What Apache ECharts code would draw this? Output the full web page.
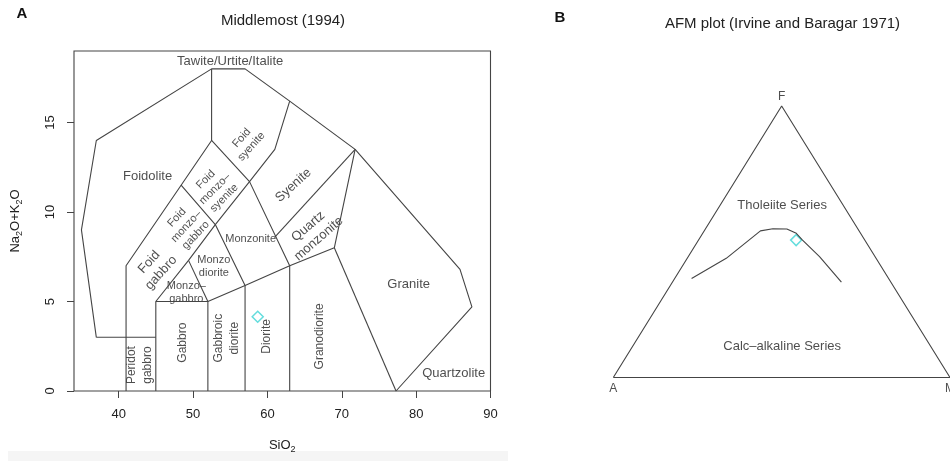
<!DOCTYPE html>
<html>
<head>
<meta charset="utf-8">
<script src="https://cdn.jsdelivr.net/npm/echarts@6/dist/echarts.min.js"></script>
<style>
  html, body { margin: 0; padding: 0; background: #fff; }
  #chart { width: 950px; height: 461px; }
</style>
</head>
<body>
<div id="chart"></div>
<script>
// ---------- Panel A: Middlemost (1994) plutonic TAS fields ----------
const siO2Ticks = [40, 50, 60, 70, 80, 90];
const alkaliTicks = [0, 5, 10, 15];

// Field boundaries as [SiO2, Na2O+K2O] polylines (wt%)
const outerBoundary = [[37, 3], [35, 9], [37, 14], [52.5, 18], [57, 18], [63, 16.2], [71.8, 13.5], [85.9, 6.8], [87.5, 4.7], [77.3, 0]];
const foidoliteBase = [[37, 3], [45, 3]];
const foidGabbroEdge = [[41, 0], [41, 7], [48.4, 11.5], [52.5, 14], [52.5, 18]];
const subalkalineTop = [[45, 0], [45, 5], [52, 5], [57, 5.9], [63, 7], [69, 8], [71.8, 13.5]];
const gabbroEdge = [[52, 0], [52, 5]];
const gabbroicDioriteEdge = [[57, 0], [57, 5.9]];
const dioriteEdge = [[63, 0], [63, 7]];
const granodioriteEdge = [[69, 8], [77.3, 0]];
const foidSyeniteBase = [[45, 5], [49.4, 7.3], [53, 9.3], [57.6, 11.7], [61, 13.5], [63, 16.2]];
const syeniteBase = [[52.5, 14], [57.6, 11.7], [63, 7]];
const monzoniteBase = [[48.4, 11.5], [53, 9.3], [57, 5.9]];
const monzogabbroEdge = [[49.4, 7.3], [52, 5]];
const quartzMonzoniteTop = [[61, 8.6], [71.8, 13.5]];

const tasBoundaries = [
  outerBoundary, foidoliteBase, foidGabbroEdge, subalkalineTop, gabbroEdge,
  gabbroicDioriteEdge, dioriteEdge, granodioriteEdge, foidSyeniteBase,
  syeniteBase, monzoniteBase, monzogabbroEdge, quartzMonzoniteTop
];

const tasFieldNames = [
  'Tawite/Urtite/Italite', 'Foidolite', 'Foid\nsyenite', 'Foid\nmonzo\u2013\nsyenite',
  'Syenite', 'Foid\nmonzo\u2013\ngabbro', 'Foid\ngabbro', 'Monzonite', 'Monzo\ndiorite',
  'Monzo\u2013\ngabbro', 'Quartz\nmonzonite', 'Peridot\ngabbro', 'Gabbro',
  'Gabbroic\ndiorite', 'Diorite', 'Granodiorite', 'Granite', 'Quartzolite'
];
// label anchor [SiO2, alkali], rotation (deg), font size
const tasLabelLayout = [
  [[55, 18.4], 0, 13], [[43.9, 12.0], 0, 13], [[57.2, 13.9], 48, 11], [[52.95, 11.3], 45, 11],
  [[63.5, 11.5], 42, 13], [[49.1, 9.2], 47, 11], [[44.9, 6.9], 48, 13], [[57.75, 8.5], 0, 11],
  [[52.8, 6.98], 0, 11], [[49.1, 5.5], 0, 11], [[66.2, 8.85], 41, 13], [[42.85, 1.45], 90, 12],
  [[48.6, 2.7], 90, 12], [[54.5, 2.95], 90, 12], [[59.9, 3.05], 90, 12], [[67.1, 3.05], 90, 12],
  [[79.0, 5.95], 0, 13], [[85.05, 1.0], 0, 13]
];

const sampleSiO2 = [58.7];
const sampleAlkali = [4.15];

// ---------- Panel B: AFM ternary (Irvine & Baragar 1971) ----------
// Corners as [A, F, M]
const afmCornerNames = ['A', 'F', 'M'];
const afmCorners = [[100, 0, 0], [0, 100, 0], [0, 0, 100]];
// Tholeiitic / calc-alkaline dividing curve
const afmCurveA = [58.5, 44.5, 29.3, 25.2, 21.1, 19.1, 18.5, 16.5, 14.7];
const afmCurveF = [36.5, 43.9, 54.0, 54.8, 54.7, 53.1, 50.6, 44.5, 35.1];
const afmCurveM = [5.0, 11.6, 16.7, 20.0, 24.2, 27.8, 30.9, 39.0, 50.2];
const afmFieldNames = ['Tholeiite Series', 'Calc\u2013alkaline Series'];
const afmFieldAnchors = [[18.1, 63.5, 18.4], [44.2, 11.3, 44.5]];

const sampleA = [20.4];
const sampleF = [50.6];
const sampleM = [29.0];

// ---------- helpers ----------
const FONT = '"Liberation Sans", Arial, sans-serif';
const TEXT = '#222';
const LINE = '#444';

// ternary [A, F, M] -> cartesian on a unit-base triangle (A left, M right, F apex)
function tern(a, f, m) {
  const s = a + f + m;
  return [(m + f / 2) / s, f / s];
}

const tasLineSeries = tasBoundaries.map(function (pts) {
  return {
    type: 'line', xAxisIndex: 0, yAxisIndex: 0, data: pts,
    symbol: 'none', clip: false, silent: true,
    lineStyle: { color: LINE, width: 1.1 }
  };
});

const tasLabelSeries = {
  type: 'scatter', xAxisIndex: 0, yAxisIndex: 0, symbolSize: 0, silent: true,
  label: {
    show: true, position: 'inside', formatter: '{b}', color: TEXT,
    fontFamily: FONT, align: 'center', verticalAlign: 'middle'
  },
  data: tasFieldNames.map(function (n, i) {
    const l = tasLabelLayout[i];
    return {
      name: n, value: l[0],
      label: { rotate: l[1], fontSize: l[2], lineHeight: l[2] + (l[1] === 90 ? 4 : (l[2] > 11 ? 3 : 2)) }
    };
  })
};

const tasSample = {
  type: 'scatter', xAxisIndex: 0, yAxisIndex: 0, symbol: 'diamond', symbolSize: 11,
  itemStyle: { color: 'rgba(0,0,0,0)', borderColor: '#3dd5d5', borderWidth: 1.5 },
  data: sampleSiO2.map(function (x, i) { return [x, sampleAlkali[i]]; })
};

const triangle = [0, 2, 1, 0].map(function (k) {
  const c = afmCorners[k];
  return tern(c[0], c[1], c[2]);
});

const afmSeries = [
  {
    type: 'line', xAxisIndex: 1, yAxisIndex: 1, data: triangle, symbol: 'none',
    clip: false, silent: true, lineStyle: { color: LINE, width: 1.1 }
  },
  {
    type: 'line', xAxisIndex: 1, yAxisIndex: 1, symbol: 'none', clip: false, silent: true,
    lineStyle: { color: LINE, width: 1.1 },
    data: afmCurveA.map(function (a, i) { return tern(a, afmCurveF[i], afmCurveM[i]); })
  },
  {
    type: 'scatter', xAxisIndex: 1, yAxisIndex: 1, symbolSize: 0, silent: true,
    label: { show: true, formatter: '{b}', color: TEXT, fontFamily: FONT, fontSize: 12 },
    data: afmCorners.map(function (c, i) {
      return {
        name: afmCornerNames[i], value: tern(c[0], c[1], c[2]),
        label: { position: i === 1 ? 'top' : 'bottom', distance: i === 1 ? 3 : 5 }
      };
    })
  },
  {
    type: 'scatter', xAxisIndex: 1, yAxisIndex: 1, symbolSize: 0, silent: true,
    label: {
      show: true, position: 'inside', formatter: '{b}', color: TEXT,
      fontFamily: FONT, fontSize: 13
    },
    data: afmFieldNames.map(function (n, i) {
      const p = afmFieldAnchors[i];
      return { name: n, value: tern(p[0], p[1], p[2]) };
    })
  },
  {
    type: 'scatter', xAxisIndex: 1, yAxisIndex: 1, symbol: 'diamond', symbolSize: 11,
    itemStyle: { color: 'rgba(0,0,0,0)', borderColor: '#3dd5d5', borderWidth: 1.5 },
    data: sampleA.map(function (a, i) { return tern(a, sampleF[i], sampleM[i]); })
  }
];

const chart = echarts.init(document.getElementById('chart'), null, { renderer: 'canvas' });

const nameRich = {
  n: { fontSize: 13, color: TEXT, fontFamily: FONT, lineHeight: 18 },
  s: { fontSize: 9, color: TEXT, fontFamily: FONT, verticalAlign: 'bottom' }
};

chart.setOption({
  animation: false,
  backgroundColor: '#fff',
  textStyle: { fontFamily: FONT },
  graphic: [
    { type: 'rect', shape: { x: 8, y: 451, width: 500, height: 10 }, style: { fill: '#f5f5f5' }, silent: true, z: -10 },
    { type: 'text', x: 22, y: 13.5, style: { text: 'A', font: 'bold 15px ' + FONT, fill: '#111', align: 'center', verticalAlign: 'middle', textAlign: 'center', textVerticalAlign: 'middle' } },
    { type: 'text', x: 560, y: 18, style: { text: 'B', font: 'bold 15px ' + FONT, fill: '#111', align: 'center', verticalAlign: 'middle', textAlign: 'center', textVerticalAlign: 'middle' } },
    { type: 'text', x: 283, y: 20.5, style: { text: 'Middlemost (1994)', font: '15px ' + FONT, fill: TEXT, align: 'center', verticalAlign: 'middle', textAlign: 'center', textVerticalAlign: 'middle' } },
    { type: 'text', x: 782.5, y: 24, style: { text: 'AFM plot (Irvine and Baragar 1971)', font: '15px ' + FONT, fill: TEXT, align: 'center', verticalAlign: 'middle', textAlign: 'center', textVerticalAlign: 'middle' } }
  ],
  grid: [
    { left: 74, top: 51, width: 416.5, height: 340, show: true, borderColor: LINE, borderWidth: 1.1, backgroundColor: 'transparent' },
    { left: 613.3, top: 106, width: 337.7, height: 271.5, show: false }
  ],
  xAxis: [
    {
      gridIndex: 0, type: 'value', min: 34, max: 90,
      splitLine: { show: false },
      axisLine: { show: false, onZero: false },
      axisTick: { show: true, length: 7, customValues: siO2Ticks, lineStyle: { color: LINE } },
      axisLabel: { customValues: siO2Ticks, fontSize: 13, color: TEXT, margin: 17, fontFamily: FONT },
      name: '{n|SiO}{s|2}', nameLocation: 'middle', nameGap: 45,
      nameTextStyle: { rich: nameRich }
    },
    { gridIndex: 1, type: 'value', min: 0, max: 1, show: false }
  ],
  yAxis: [
    {
      gridIndex: 0, type: 'value', min: 0, max: 19,
      splitLine: { show: false },
      axisLine: { show: false, onZero: false },
      axisTick: { show: true, length: 7, customValues: alkaliTicks, lineStyle: { color: LINE } },
      axisLabel: { customValues: alkaliTicks, rotate: 90, fontSize: 13, color: TEXT, margin: 17, fontFamily: FONT },
      name: '{n|Na}{s|2}{n|O+K}{s|2}{n|O}', nameLocation: 'middle', nameGap: 50, nameRotate: 90,
      nameTextStyle: { rich: nameRich }
    },
    { gridIndex: 1, type: 'value', min: 0, max: 1, show: false }
  ],
  series: tasLineSeries.concat([tasLabelSeries, tasSample]).concat(afmSeries)
});
</script>
</body>
</html>
